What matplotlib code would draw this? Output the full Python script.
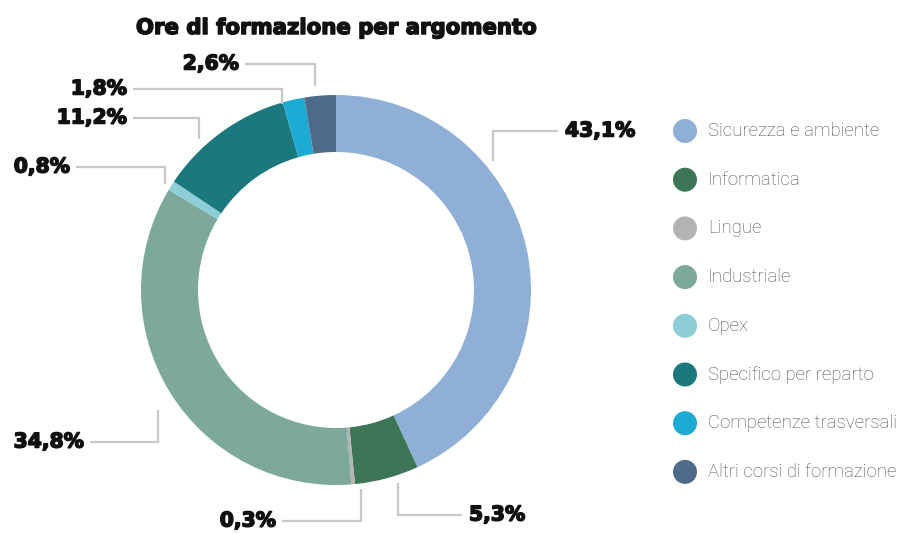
import matplotlib
matplotlib.use("Agg")
import matplotlib.pyplot as plt
import matplotlib.patheffects as pe
from matplotlib.patches import Circle

# Training hours by topic (percent of total)
categories = [
    "Sicurezza e ambiente",
    "Informatica",
    "Lingue",
    "Industriale",
    "Opex",
    "Specifico per reparto",
    "Competenze trasversali",
    "Altri corsi di formazione",
]
shares = [43.1, 5.3, 0.3, 34.8, 0.8, 11.2, 1.8, 2.6]
share_labels = ["43,1%", "5,3%", "0,3%", "34,8%", "0,8%", "11,2%", "1,8%", "2,6%"]
colors = ["#8FAFD6", "#3D7657", "#B3B3B3", "#7DA89C",
          "#8DCDD6", "#1B787D", "#1DAAD3", "#4E6B8A"]

W, H = 898, 534
fig = plt.figure(figsize=(W / 100, H / 100), dpi=100)
ax = fig.add_axes([0, 0, 1, 1])


def Y(y):
    """Convert a top-down pixel row to axes y."""
    return H - y


cx, cy, R, ring = 336, Y(290), 195, 57
ax.pie(shares, colors=colors, radius=R, center=(cx, cy), startangle=90,
       counterclock=False, wedgeprops=dict(width=ring, linewidth=0),
       frame=True)
ax.set_xlim(0, W)
ax.set_ylim(0, H)
ax.set_aspect("equal")
ax.axis("off")

heavy = [pe.withStroke(linewidth=1.1, foreground="#111111")]

# Leader lines: (x of vertical leg, start y near ring, label row y, end x of horizontal leg)
leaders = [
    (493, 161, 131, 558),
    (398, 483, 515, 462),
    (361, 489, 521, 282),
    (158, 410, 442, 90),
    (165, 184, 167, 76),
    (199, 139, 118, 133),
    (282, 104, 89, 133),
    (315, 86, 64, 245),
]
label_font = dict(family="DejaVu Sans", fontweight="bold",
                  fontsize=14.6, color="#111111", path_effects=heavy)
for (vx, y0, ly, hx), txt in zip(leaders, share_labels):
    ax.plot([vx, vx, hx], [Y(y0), Y(ly), Y(ly)], color="#C8C8C8",
            lw=1.6, solid_capstyle="butt", solid_joinstyle="miter")
    if hx > vx:
        ax.text(hx + 7, Y(ly), txt, ha="left", va="center", **label_font)
    else:
        ax.text(hx - 6, Y(ly), txt, ha="right", va="center", **label_font)

# Title
ax.text(336, Y(28), "Ore di formazione per argomento", ha="center",
        va="center", family="DejaVu Sans", fontweight="bold",
        fontsize=15.3, color="#111111", path_effects=heavy)

# Legend
ly0, dy = 131, 48.7
for i, (name, col) in enumerate(zip(categories, colors)):
    yy = Y(ly0 + i * dy)
    ax.add_patch(Circle((685, yy), 12, color=col, lw=0))
    ax.text(708, yy, name, ha="left", va="center",
            family=["Roboto", "DejaVu Sans"], fontweight="light",
            fontsize=13.4, color="#4F4F4F")

fig.savefig("out.png", dpi=100)
